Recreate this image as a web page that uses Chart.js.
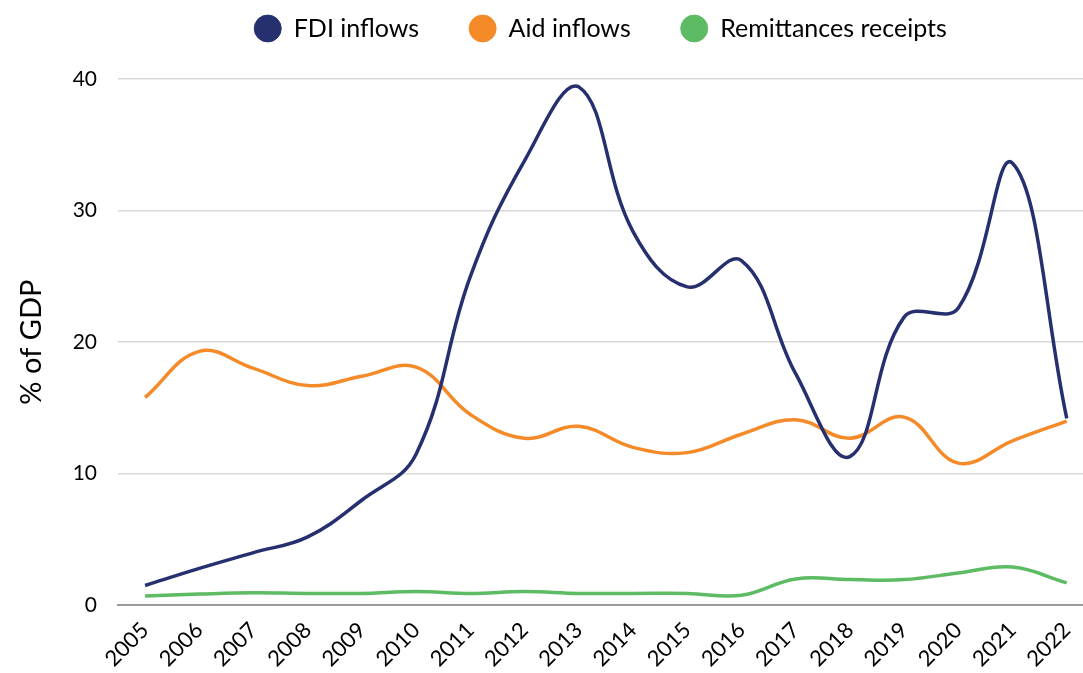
<!DOCTYPE html>
<html>
<head>
<meta charset="utf-8">
<script src="https://cdn.jsdelivr.net/npm/chart.js@4"></script>
<style>
  html, body { margin: 0; padding: 0; background: #fff; }
</style>
</head>
<body>
<canvas id="lineChart" width="1083" height="673"></canvas>
<script>
// data (% of GDP)
var years = [2005, 2006, 2007, 2008, 2009, 2010, 2011, 2012, 2013, 2014, 2015, 2016, 2017, 2018, 2019, 2020, 2021, 2022];
var fdiInflows = [1.5, 2.8, 4.0, 5.2, 8.0, 11.5, 25.0, 33.8, 39.4, 28.4, 24.2, 26.2, 17.6, 11.3, 21.9, 22.6, 33.6, 14.2];
var aidInflows = [15.8, 19.3, 18.0, 16.7, 17.4, 18.1, 14.5, 12.7, 13.6, 12.0, 11.6, 13.0, 14.1, 12.7, 14.3, 10.8, 12.5, 14.0];
var remittances = [0.7, 0.85, 0.95, 0.9, 0.9, 1.05, 0.9, 1.05, 0.9, 0.9, 0.9, 0.76, 2.0, 1.95, 1.95, 2.45, 2.9, 1.7];
var yTicks = [0, 10, 20, 30, 40];

function toPoints(values) {
    return values.map(function (v, i) { return { x: years[i], y: v }; });
}

var FONT = 'Lato, "Open Sans", sans-serif';

// legend sits centred over the plot area and close to the top edge
var legendShift = {
    id: 'legendShift',
    afterLayout: function (chart) {
        var lg = chart.legend;
        var dx = (chart.chartArea.left + chart.chartArea.right) / 2 - (lg.left + lg.right) / 2;
        var dy = -28;
        lg.left += dx; lg.right += dx;
        lg.top += dy; lg.bottom += dy;
    }
};

var ctx = document.getElementById("lineChart");

var myLineChart = new Chart(ctx, {
    type: 'line',
    data: {
        datasets: [{
            label: 'FDI inflows',
            data: toPoints(fdiInflows),
            borderColor: '#26306f',
            backgroundColor: '#26306f'
        },
        {
            label: 'Aid inflows',
            data: toPoints(aidInflows),
            borderColor: '#f58a28',
            backgroundColor: '#f58a28'
        },
        {
            label: 'Remittances receipts',
            data: toPoints(remittances),
            borderColor: '#5dbb63',
            backgroundColor: '#5dbb63'
        }]
    },
    plugins: [legendShift],
    options: {
        responsive: false,
        animation: false,
        layout: { padding: { left: 0, right: 0, top: -6, bottom: -3 } },
        elements: {
            line: { borderWidth: 3.5, tension: 0.4, fill: false },
            point: { radius: 0 }
        },
        plugins: {
            tooltip: { enabled: false },
            legend: {
                position: 'top',
                labels: {
                    usePointStyle: true,
                    pointStyle: 'circle',
                    pointStyleWidth: 27,
                    boxHeight: 19,
                    padding: 50,
                    color: '#000',
                    font: { family: FONT, size: 25 }
                }
            }
        },
        scales: {
            x: {
                type: 'linear',
                min: 2004.5,
                max: 2022.3,
                afterBuildTicks: function (axis) {
                    axis.ticks = years.map(function (y) { return { value: y }; });
                },
                afterFit: function (scale) { scale.paddingRight = 0; },
                grid: { display: false },
                border: { display: true, color: '#9a9a9a', width: 2 },
                ticks: {
                    color: '#000',
                    font: { family: FONT, size: 22 },
                    minRotation: 45,
                    maxRotation: 45,
                    padding: 4,
                    callback: function (v) { return String(v); }
                }
            },
            y: {
                min: 0,
                max: 40,
                afterBuildTicks: function (axis) {
                    axis.ticks = yTicks.map(function (v) { return { value: v }; });
                },
                afterFit: function (scale) { scale.width = 118; },
                grid: { color: '#d9d9d9', lineWidth: 1.5, drawTicks: false },
                border: { display: false },
                ticks: {
                    color: '#000',
                    font: { family: FONT, size: 21 },
                    padding: 21
                },
                title: {
                    display: true,
                    text: '% of GDP',
                    color: '#000',
                    font: { family: FONT, size: 29 },
                    padding: { top: 14, bottom: 0 }
                }
            }
        }
    }
});
</script>
</body>
</html>
